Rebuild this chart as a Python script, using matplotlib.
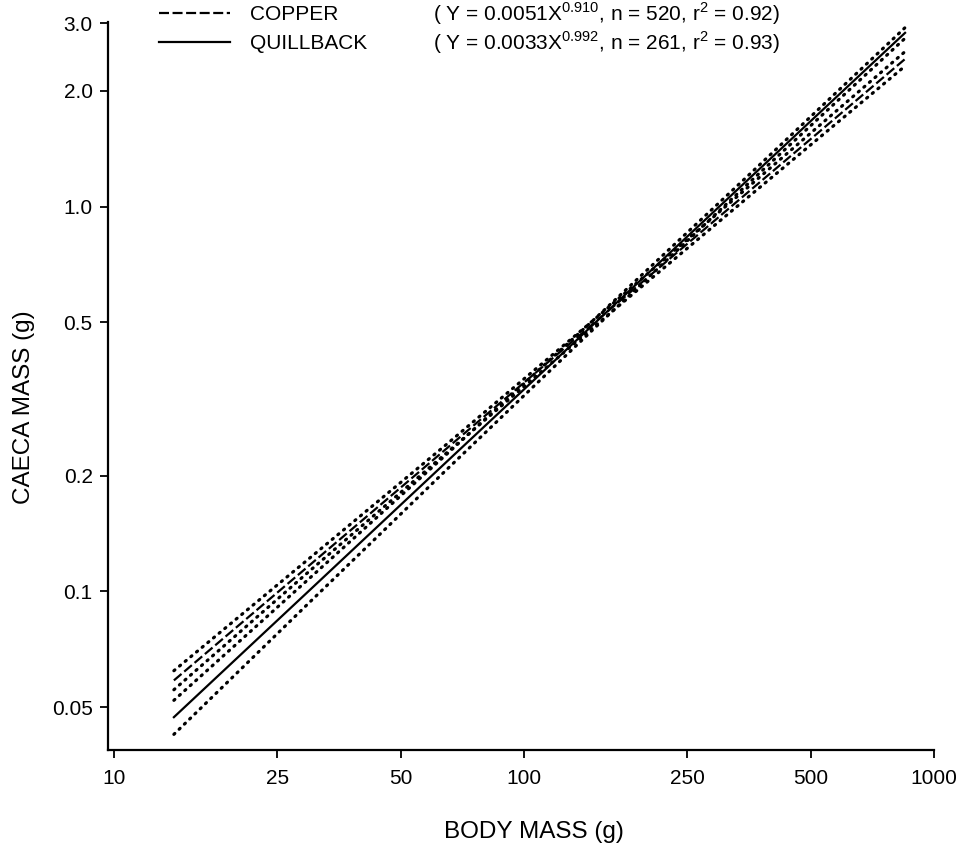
import numpy as np
import matplotlib.pyplot as plt

plt.rcParams['font.family'] = ['Liberation Sans', 'DejaVu Sans']
plt.rcParams['mathtext.fontset'] = 'custom'
plt.rcParams['mathtext.rm'] = 'Liberation Sans'

body_mass = [14, 30, 65, 150, 350, 850]

# copper rockfish: fit and 95% band (caeca mass, g)
copper_fit = [0.0587, 0.117, 0.236, 0.504, 1.085, 2.42]
copper_hi = [0.0622, 0.122, 0.242, 0.514, 1.118, 2.53]
copper_lo = [0.0555, 0.113, 0.230, 0.493, 1.053, 2.32]

# quillback rockfish
quill_fit = [0.0471, 0.1007, 0.218, 0.502, 1.169, 2.83]
quill_hi = [0.0521, 0.1082, 0.228, 0.515, 1.197, 2.92]
quill_lo = [0.0425, 0.0937, 0.208, 0.488, 1.141, 2.74]

x_ticks = [10, 25, 50, 100, 250, 500, 1000]
y_ticks = [0.05, 0.1, 0.2, 0.5, 1.0, 2.0, 3.0]
y_ticklabels = ['0.05', '0.1', '0.2', '0.5', '1.0', '2.0', '3.0']

eq_copper = r'( Y = 0.0051X$^{0.910}$, n = 520, r$^{2}$ = 0.92)'
eq_quill = r'( Y = 0.0033X$^{0.992}$, n = 261, r$^{2}$ = 0.93)'

W, H = 962, 848
fig = plt.figure(figsize=(W / 100, H / 100), dpi=100)
ax = fig.add_axes([108 / W, 1 - 750 / H, (934 - 108) / W, (750 - 22) / H])

dots = (0, (0.4, 1.9))
ln_c, = ax.plot(body_mass, copper_fit, color='black', lw=1.6, ls=(0, (4.5, 1.6)))
ax.plot(body_mass, copper_hi, color='black', lw=2.3, ls=dots, dash_capstyle='round')
ax.plot(body_mass, copper_lo, color='black', lw=2.3, ls=dots, dash_capstyle='round')
ln_q, = ax.plot(body_mass, quill_fit, color='black', lw=1.6, ls='-')
ax.plot(body_mass, quill_hi, color='black', lw=2.3, ls=dots, dash_capstyle='round')
ax.plot(body_mass, quill_lo, color='black', lw=2.3, ls=dots, dash_capstyle='round')

ax.set_xscale('log')
ax.set_yscale('log')
ax.set_xlim(9.67, 1000)
ax.set_ylim(0.0387, 3.02)

ax.set_xticks(x_ticks)
ax.set_xticklabels([str(t) for t in x_ticks])
ax.set_yticks(y_ticks)
ax.set_yticklabels(y_ticklabels)
ax.minorticks_off()
ax.tick_params(direction='out', length=6, width=1.3, labelsize=15, pad=5)
ax.tick_params(axis='x', pad=8)

for s in ['top', 'right']:
    ax.spines[s].set_visible(False)
for s in ['left', 'bottom']:
    ax.spines[s].set_linewidth(1.6)

fig.text(534 / W, 1 - 832 / H, 'BODY MASS (g)', ha='center', va='center', fontsize=17.5)
fig.text(24 / W, 1 - 407 / H, 'CAECA MASS (g)', ha='center', va='center',
         rotation=90, fontsize=17.5)

leg = ax.legend([ln_c, ln_q], ['COPPER', 'QUILLBACK'], loc='upper left',
                bbox_to_anchor=(159 / W, 1 - 5.5 / H), bbox_transform=fig.transFigure,
                frameon=False, fontsize=15, handlelength=3.4, handletextpad=0.95,
                labelspacing=0.47, borderpad=0, borderaxespad=0)

fig.text(433 / W, 1 - 14 / H, eq_copper, ha='left', va='center', fontsize=15)
fig.text(433 / W, 1 - 43 / H, eq_quill, ha='left', va='center', fontsize=15)

fig.savefig('out.png', dpi=100)
